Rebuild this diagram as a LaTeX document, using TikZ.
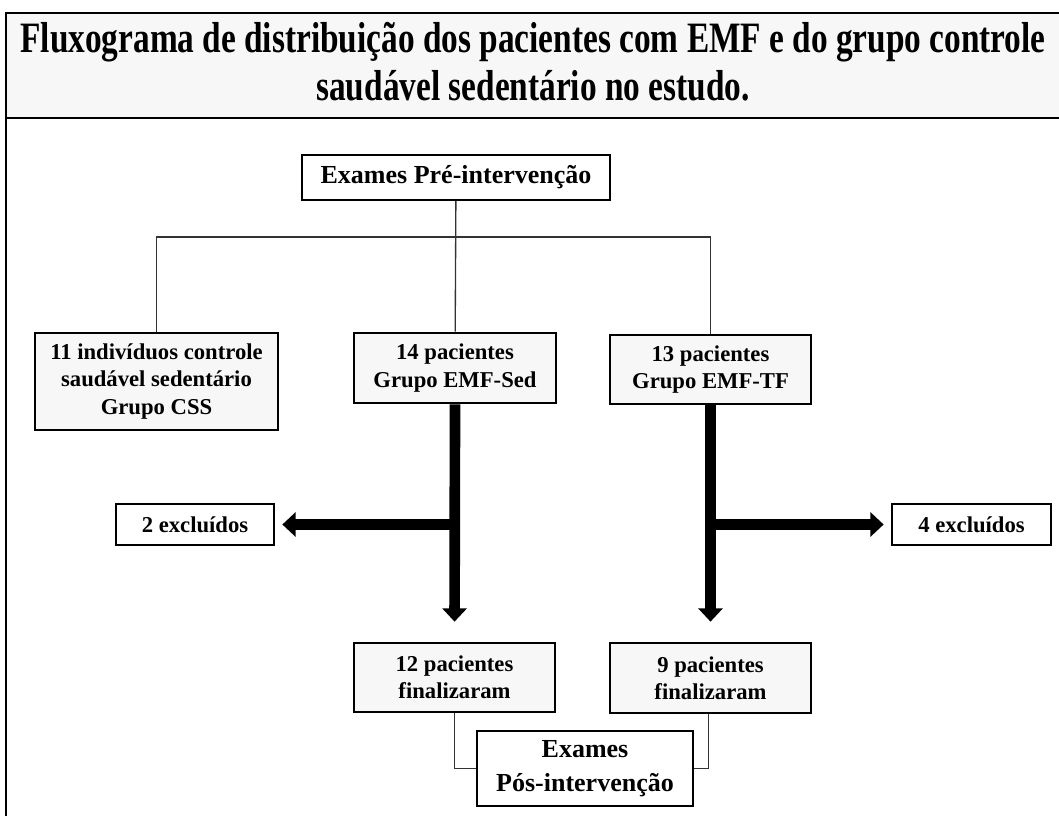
\documentclass[tikz,border=0pt]{standalone}
\usepackage{fontspec}
\setmainfont{Liberation Serif}
\usetikzlibrary{arrows.meta}
\newdimen\px
\px=0.75pt
\tikzset{
    grupo/.style={draw, line width=2pt, fill=gray!6, align=center, inner sep=0pt, font=\fontsize{17}{20.5}\selectfont\bfseries},
    exame/.style={draw, line width=1.2pt, fill=white, align=center, inner sep=0pt, font=\fontsize{19.5}{25}\selectfont\bfseries},
    fino/.style={line width=1pt, draw=black!80},
    grosso/.style={line width=8pt, -{Triangle[width=18pt,length=10pt]}}
}
\newcommand{\caixa}[6]{\node[#1, minimum width=#5\px, minimum height=#6\px] (#2) at (#3,#4)}

\begin{document}
\begin{tikzpicture}[x=0.75pt, y=-0.75pt]
            \useasboundingbox (0,0) rectangle (1059,816);
            \clip (0,0) rectangle (1059,816);
            \draw[line width=2.2pt] (6,13) rectangle (1075,840);
            \draw[line width=2.2pt, fill=gray!6] (6,13) rectangle (1075,118);
            \node[inner sep=0pt, font=\fontsize{25}{27.5}\selectfont\bfseries] (titulo) at (533,67)
                {\scalebox{1}[1.3]{\begin{tabular}{@{}c@{}}Fluxograma de distribuição dos pacientes com EMF e do grupo controle\\saudável sedentário no estudo.\end{tabular}}};

            \caixa{exame}{pre}{456}{177.5}{308}{45} {Exames Pré-intervenção};

            \caixa{grupo}{css}{156.5}{381.5}{243}{97} {11 indivíduos controle\\saudável sedentário\\Grupo CSS};
            \caixa{grupo}{sed}{455}{368}{202}{70} {14 pacientes\\Grupo EMF-Sed};
            \caixa{grupo}{tf}{710.5}{369.5}{201}{69} {13 pacientes\\Grupo EMF-TF};

            \caixa{grupo, fill=white}{exsed}{195}{524.5}{158}{41} {2 excluídos};
            \caixa{grupo, fill=white}{extf}{971.5}{524.5}{159}{41} {4 excluídos};

            \caixa{grupo}{finsed}{454.5}{677.5}{201}{69} {12 pacientes\\finalizaram};
            \caixa{grupo}{fintf}{710.5}{678}{201}{70} {9 pacientes\\finalizaram};

            \caixa{exame}{pos}{585}{768.5}{216}{75} {Exames\\Pós-intervenção};

            \coordinate (meio) at (456,237);
            \draw[fino] (pre) -- (sed);
            \draw[fino] (css) |- (meio) -| (tf);
            \draw[fino] (finsed) |- (pos);
            \draw[fino] (fintf.south) ++(-2,0) |- (pos);

            \draw[grosso, shorten >=20\px] (sed.south) -- (finsed.north);
            \draw[grosso, shorten >=20\px] (tf.south) -- (fintf.north);
            \draw[grosso, shorten >=7\px] (sed.south |- exsed) -- (exsed);
            \draw[grosso, shorten >=7\px] (tf.south |- extf) -- (extf);
        \end{tikzpicture}
\end{document}
